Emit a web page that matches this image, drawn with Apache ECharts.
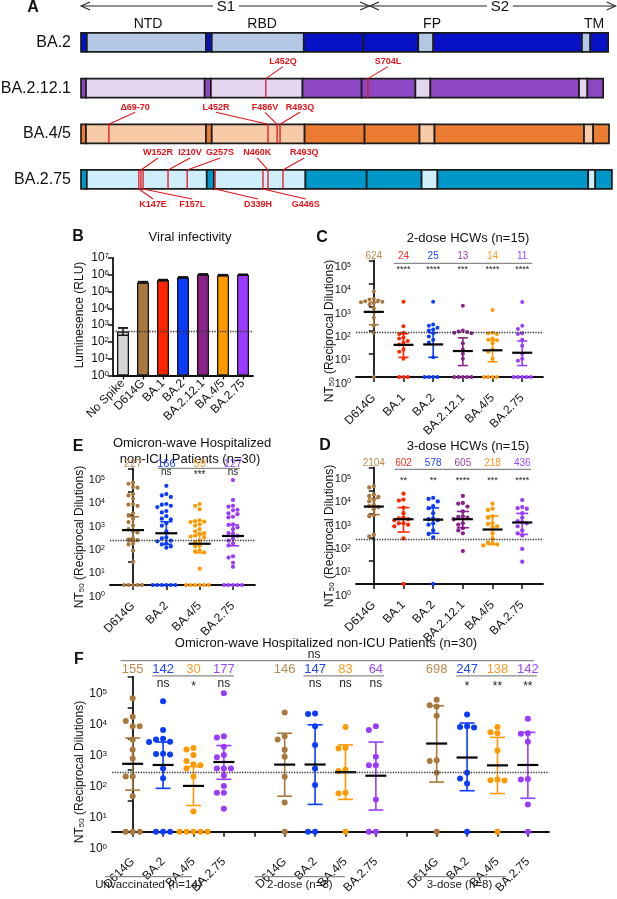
<!DOCTYPE html>
<html>
<head>
<meta charset="utf-8">
<script src="https://cdn.jsdelivr.net/npm/echarts@6.0.0/dist/echarts.min.js"></script>
<style>
html,body{margin:0;padding:0;background:#ffffff;}
#chart{width:617px;height:899px;}
</style>
</head>
<body>
<div id="chart"></div>
<script>
// ================= DATA =================
// ---- Panel A: spike schematics (schematic residue positions) ----
const spikeRows = ['BA.2', 'BA.2.12.1', 'BA.4/5', 'BA.2.75'];
const segBA2    = [0, 14, 300, 314, 535, 678, 810, 846, 1203, 1223, 1266];
const segBA2121 = [0, 12, 297, 312, 532, 674, 803, 839, 1196, 1216, 1254];
const segBA45   = [0, 12, 300, 314, 537, 681, 813, 849, 1208, 1230, 1268];
const segBA275  = [0, 14, 302, 319, 539, 686, 818, 856, 1218, 1235, 1275];
const segLight  = [0, 1, 0, 1, 0, 0, 1, 0, 1, 0];
const subunitNames = ['S1', 'S2'];
const subunitStart = [0, 694];
const subunitEnd = [692, 1284];
const subunitLabelPos = [348, 1006];
const domainNames = ['NTD', 'RBD', 'FP', 'TM'];
const domainPos = [161, 435, 843, 1232];
const mutRow  = [1, 1, 2, 2, 2, 2, 3, 3, 3, 3, 3, 3, 3, 3, 3];
const mutName = ['L452Q', 'S704L', 'Δ69-70', 'L452R', 'F486V', 'R493Q', 'K147E', 'W152R', 'F157L', 'I210V', 'G257S', 'D339H', 'G446S', 'N460K', 'R493Q'];
const mutPos  = [444, 689, 67, 449, 471, 478, 139, 144, 149, 209, 255, 322, 437, 449, 485];
const mutLabelPos = [485, 737, 130, 324, 442, 526, 173, 185, 267, 262, 334, 425, 540, 423, 536];
const mutSide = ['up', 'up', 'up', 'up', 'up', 'up', 'down', 'up', 'down', 'up', 'up', 'down', 'down', 'up', 'up'];

// ---- Panel B: viral infectivity ----
const infectLabels = ['No Spike', 'D614G', 'BA.1', 'BA.2', 'BA.2.12.1', 'BA.4/5', 'BA.2.75'];
const infectValues = [420, 350000, 480000, 700000, 1050000, 950000, 1000000];
const infectErrLow = [250, 320000, 455000, 665000, 1000000, 905000, 950000];
const infectErrHigh = [680, 385000, 510000, 740000, 1110000, 1000000, 1060000];
const infectCutoff = 450;

// ---- Panel C: 2-dose HCWs ----
const cdCats = ['D614G', 'BA.1', 'BA.2', 'BA.2.12.1', 'BA.4/5', 'BA.2.75'];
const c_D614G  = [4800, 2300, 2100, 1900, 1800, 1700, 1600, 1500, 1300, 900, 600, 350, 160, 80, 1];
const c_BA1    = [1700, 150, 80, 70, 50, 45, 35, 30, 25, 15, 12, 6, 1, 1, 1];
const c_BA2    = [1700, 180, 160, 130, 110, 100, 75, 55, 40, 30, 7, 1, 1, 1, 1];
const c_BA2121 = [1150, 100, 90, 85, 80, 75, 28, 15, 10, 6, 1, 1, 1, 1, 1];
const c_BA45   = [760, 80, 75, 70, 45, 40, 38, 28, 15, 12, 6, 1, 1, 1, 1];
const c_BA275  = [1650, 160, 115, 75, 70, 40, 22, 10, 6, 5, 1, 1, 1, 1, 1];
const gmtC  = [624, 24, 25, 13, 14, 11];
const ciLoC = [175, 7, 7, 3.1, 4.5, 3.1];
const ciHiC = [1600, 72, 80, 48, 38, 35];
const starsC = ['', '****', '****', '***', '****', '****'];

// ---- Panel D: 3-dose HCWs ----
const d_D614G  = [16000, 14000, 7000, 6000, 5500, 4000, 3500, 2500, 2200, 2000, 1600, 900, 800, 130, 110];
const d_BA1    = [7500, 4200, 3800, 1900, 1100, 700, 650, 600, 550, 400, 400, 350, 300, 90, 1];
const d_BA2    = [5000, 4500, 3500, 2200, 1800, 1100, 650, 600, 550, 400, 350, 200, 140, 100, 1];
const d_BA2121 = [6000, 3000, 2800, 2100, 1300, 800, 750, 700, 600, 400, 350, 250, 200, 150, 26];
const d_BA45   = [2800, 1700, 1500, 800, 700, 400, 380, 300, 260, 150, 90, 60, 55, 50, 45];
const d_BA275  = [4000, 2000, 1800, 1700, 1100, 700, 500, 450, 400, 300, 200, 150, 120, 32, 9];
const gmtD  = [2104, 602, 578, 605, 218, 436];
const ciLoD = [950, 170, 150, 260, 50, 135];
const ciHiD = [4700, 1900, 1850, 1300, 830, 1070];
const starsD = ['', '**', '**', '****', '***', '****'];

// ---- Panel E: Omicron-wave hospitalized non-ICU (n=30) ----
const eCats = ['D614G', 'BA.2', 'BA.4/5', 'BA.2.75'];
const e_D614G = [25000, 22000, 16000, 15000, 8000, 7000, 5000, 3000, 2800, 2500, 1200, 1000, 700, 500, 350, 250, 200, 180, 100, 90, 85, 60, 55, 30, 10, 1, 1, 1, 1, 1];
const e_BA2   = [18000, 8000, 7000, 6000, 3000, 2800, 2500, 2200, 1500, 1300, 900, 700, 650, 450, 350, 200, 110, 100, 80, 75, 60, 55, 45, 40, 1, 1, 1, 1, 1, 1];
const e_BA45  = [3000, 2500, 1800, 600, 550, 520, 500, 400, 350, 250, 200, 170, 160, 130, 120, 110, 80, 70, 50, 45, 30, 28, 25, 5, 1, 1, 1, 1, 1, 1];
const e_BA275 = [32000, 4500, 2500, 2300, 1700, 1600, 1200, 1100, 850, 800, 400, 380, 300, 250, 170, 160, 130, 100, 80, 60, 50, 17, 15, 9, 6, 1, 1, 1, 1, 1];
const gmtE  = [227, 166, 59, 127];
const ciLoE = [75, 56, 24, 48];
const ciHiE = [850, 520, 145, 380];
const starsE = ['', 'ns', '***', 'ns'];

// ---- Panel F: by vaccination status ----
const fCats = ['D614G', 'BA.2', 'BA.4/5', 'BA.2.75', 'D614G', 'BA.2', 'BA.4/5', 'BA.2.75', 'D614G', 'BA.2', 'BA.4/5', 'BA.2.75'];
const fSlots = [0, 1, 2, 3, 5, 6, 7, 8, 10, 11, 12, 13];
const fGroups = ['Unvaccinated (n=14)', '2-dose (n=8)', '3-dose (n=8)'];
const f_u_D614G  = [20000, 5100, 3700, 2500, 2500, 950, 440, 230, 60, 60, 14, 1, 1, 1];
const f_u_BA2    = [16000, 1900, 1000, 950, 800, 780, 330, 320, 310, 110, 53, 1, 1, 1];
const f_u_BA45   = [500, 450, 300, 190, 150, 140, 110, 60, 4.5, 1, 1, 1, 1, 1];
const f_u_BA275  = [29000, 1200, 1100, 550, 300, 250, 110, 110, 110, 65, 30, 18, 18, 5.5];
const f_2_D614G  = [7000, 1200, 950, 440, 260, 59, 8.7, 1];
const f_2_BA2    = [6500, 6300, 2500, 630, 110, 32, 1, 1];
const f_2_BA45   = [2400, 500, 480, 100, 90, 18, 17, 1];
const f_2_BA275  = [2500, 1900, 260, 140, 140, 11, 1, 1];
const f_3_D614G  = [18000, 12000, 11000, 5500, 200, 190, 80, 1];
const f_3_BA2    = [6000, 2500, 2400, 2300, 80, 52, 36, 1];
const f_3_BA45   = [2400, 1600, 1500, 420, 48, 46, 45, 1];
const f_3_BA275  = [4400, 1500, 1450, 800, 50, 48, 7.5, 1];
const gmtF  = [155, 142, 30, 177, 146, 147, 83, 64, 698, 247, 138, 142];
const ciLoF = [22, 25, 7, 49, 14, 7.6, 11, 5, 40, 21, 17, 12];
const ciHiF = [1050, 780, 126, 600, 1500, 2800, 630, 780, 11500, 3200, 1100, 1600];
const starsF = ['', 'ns', '*', 'ns', '', 'ns', 'ns', 'ns', '', '*', '**', '**'];
const fOverallStat = 'ns';
const ntLOD = 80;

// ================= STYLE =================
const FONT = '"Liberation Sans", Arial, Helvetica, sans-serif';
const INK = '#111111';
const RED = '#e2151b';
const rowDark = ['#0711c6', '#8e47c3', '#ec7c31', '#0098c8'];
const rowLight = ['#b4c7e5', '#e4d5f0', '#f7caa8', '#cfeefb'];
const variantColor = {
  'No Spike': '#d6d6d6', 'D614G': '#a8783f', 'BA.1': '#ff2600', 'BA.2': '#0a3bff',
  'BA.2.12.1': '#8a2389', 'BA.4/5': '#ff9900', 'BA.2.75': '#9a3cff'
};
const numberColor = {
  'D614G': '#b98a52', 'BA.1': '#ff3020', 'BA.2': '#1f45ff', 'BA.2.12.1': '#a040a8',
  'BA.4/5': '#ff9a20', 'BA.2.75': '#9a48ff'
};
const BAR_H = 19;

// ================= HELPERS =================
function T(x, y, text, size, color, o) {
  o = o || {};
  const al = o.align || 'center', va = o.va || 'middle';
  const st = { text: text, fill: color || INK, fontSize: size, fontFamily: FONT,
    fontWeight: o.bold ? 'bold' : 'normal', align: al, verticalAlign: va,
    textAlign: al, textVerticalAlign: va };
  if (o.rich) st.rich = o.rich;
  const el = { type: 'text', x: x, y: y, style: st, z2: 20 };
  if (o.rotation) el.rotation = o.rotation;
  return el;
}
function L(x1, y1, x2, y2, color, w) {
  return { type: 'line', shape: { x1: x1, y1: y1, x2: x2, y2: y2 }, style: { stroke: color, lineWidth: w } };
}
function PL(pts, color, w) {
  return { type: 'polyline', shape: { points: pts }, style: { stroke: color, lineWidth: w, fill: 'none' } };
}
// simple dot-plot spreading: points that would overlap are placed side by side
function swarm(vals, pxDec, step) {
  const order = vals.map((v, i) => i).sort((a, b) => vals[b] - vals[a]);
  const placed = [];
  const off = new Array(vals.length).fill(0);
  order.forEach(i => {
    const y = Math.log10(vals[i]) * pxDec;
    for (let k = 0; k < 60; k++) {
      const m = k === 0 ? 0 : (k % 2 ? -Math.ceil(k / 2) : Math.ceil(k / 2));
      const x = m * step;
      const hit = placed.some(p => Math.abs(p.y - y) < step * 0.9 && Math.abs(p.x - x) < step * 0.95);
      if (!hit) { placed.push({ x: x, y: y }); off[i] = x; break; }
    }
  });
  return off;
}

function logYAxis(gi, maxV, size, shift, margin) {
  return {
    type: 'log', gridIndex: gi, min: 1, max: maxV, logBase: 10,
    splitNumber: Math.round(Math.log10(maxV)),
    axisLine: { show: true, lineStyle: { color: INK, width: 1.8 } },
    axisTick: { show: true, length: 5, lineStyle: { color: INK, width: 1.5 } },
    splitLine: { show: false }, minorTick: { show: false },
    axisLabel: {
      show: true, margin: margin, showMinLabel: true, showMaxLabel: true,
      verticalAlign: shift ? 'top' : 'middle', padding: [shift || 0, 0, 0, 0],
      formatter: v => '{b|10}{s|' + Math.round(Math.log10(v)) + '}',
      rich: {
        b: { fontSize: size, color: INK, fontFamily: FONT },
        s: { fontSize: Math.round(size * 0.68), color: INK, fontFamily: FONT, verticalAlign: 'top' }
      }
    }
  };
}
function slotXAxis(gi, min, max, slots, tickSlots, names, margin) {
  return {
    type: 'value', gridIndex: gi, min: min, max: max,
    axisLine: { show: true, onZero: false, lineStyle: { color: INK, width: 1.8 } },
    axisTick: { show: true, length: 5, customValues: tickSlots, lineStyle: { color: INK, width: 1.5 } },
    axisLabel: { show: true, customValues: slots, rotate: 45, margin: margin, fontSize: 12,
      color: INK, fontFamily: FONT, formatter: v => names[slots.indexOf(Math.round(v))] || '' },
    splitLine: { show: false }
  };
}

function dotSeries(gi, cfg) {
  const pts = [];
  cfg.values.forEach((vals, k) => {
    const offs = swarm(vals, cfg.pxDec, cfg.step);
    vals.forEach((v, j) => pts.push([cfg.slots[k] + offs[j] / cfg.pxSlot, v, k]));
  });
  return {
    type: 'scatter', xAxisIndex: gi, yAxisIndex: gi, data: pts, symbol: 'circle',
    symbolSize: cfg.dot, clip: false, silent: true, z: 3,
    itemStyle: { color: p => variantColor[cfg.cats[p.data[2]]], opacity: 1 },
    markLine: { silent: true, symbol: 'none', animation: false, data: [{ yAxis: ntLOD }],
      label: { show: false }, lineStyle: { type: 'dotted', color: '#333', width: 1.3 } }
  };
}
function errSeries(gi, cfg) {
  return {
    type: 'custom', xAxisIndex: gi, yAxisIndex: gi, clip: false, silent: true, z: 4,
    data: cfg.slots.map((s, k) => [s, cfg.gmt[k], cfg.lo[k], cfg.hi[k]]),
    renderItem: (params, api) => {
      const k = params.dataIndex;
      const col = variantColor[cfg.cats[k]];
      const x = api.value(0);
      const pm = api.coord([x, api.value(1)]);
      const pl = api.coord([x, api.value(2)]);
      const ph = api.coord([x, api.value(3)]);
      const c = cfg.capW / 2, m = cfg.meanW / 2;
      return { type: 'group', children: [
        L(pm[0], pl[1], pm[0], ph[1], col, 1.6),
        L(pm[0] - c, pl[1], pm[0] + c, pl[1], col, 1.6),
        L(pm[0] - c, ph[1], pm[0] + c, ph[1], col, 1.6),
        L(pm[0] - m, pm[1], pm[0] + m, pm[1], '#000', 2.2)
      ] };
    }
  };
}
function annotSeries(gi, cfg) {
  return {
    type: 'custom', xAxisIndex: gi, yAxisIndex: gi, clip: false, silent: true, z: 6,
    data: [[cfg.slots[0], 100000]],
    renderItem: (params, api) => {
      const top = api.coord([0, 100000])[1];
      const bottom = api.coord([0, 1])[1];
      const X = s => api.coord([s, 100000])[0];
      const ch = [];
      cfg.slots.forEach((s, k) => {
        ch.push(T(X(s), top + cfg.numOff, String(cfg.gmt[k]), cfg.numSize, numberColor[cfg.cats[k]]));
        const st = cfg.stars[k];
        if (st) ch.push(T(X(s), top + cfg.starOff + (st.indexOf('*') >= 0 ? 3 : 0), st, cfg.starSize, '#222'));
      });
      cfg.lines.forEach(ab => ch.push(L(X(ab[0]), top + cfg.lineOff, X(ab[1]), top + cfg.lineOff, '#8a8a8a', 1.3)));
      if (cfg.overall) {
        const o = cfg.overall;
        ch.push(L(X(o.from), top + o.lineOff, X(o.to), top + o.lineOff, '#8a8a8a', 1.3));
        ch.push(T(X(o.at), top + o.textOff, o.text, o.size, '#222'));
      }
      if (cfg.groups) {
        const g = cfg.groups;
        g.names.forEach((n, i) => {
          const a = X(g.spans[i][0]), b = X(g.spans[i][1]);
          ch.push(L(a, bottom + g.lineOff, b, bottom + g.lineOff, '#8a8a8a', 1.3));
          ch.push(T((a + b) / 2, bottom + g.textOff, n, g.size, '#222'));
        });
      }
      return { type: 'group', children: ch };
    }
  };
}

// ================= PANEL A SERIES =================
const segBounds = [segBA2, segBA2121, segBA45, segBA275];
const segData = [];
segBounds.forEach((b, r) => {
  for (let k = 0; k < b.length - 1; k++) segData.push([b[k], b[k + 1], r, segLight[k]]);
});
const aSegSeries = {
  type: 'custom', xAxisIndex: 0, yAxisIndex: 0, clip: false, silent: true, z: 2,
  data: segData,
  renderItem: (params, api) => {
    const r = api.value(2);
    const p0 = api.coord([api.value(0), r]);
    const p1 = api.coord([api.value(1), r]);
    return { type: 'rect', shape: { x: p0[0], y: p0[1] - BAR_H / 2, width: p1[0] - p0[0], height: BAR_H },
      style: { fill: api.value(3) ? rowLight[r] : rowDark[r], stroke: '#1b1b1b', lineWidth: 1.7 } };
  }
};
const aMutSeries = {
  type: 'custom', xAxisIndex: 0, yAxisIndex: 0, clip: false, silent: true, z: 3,
  data: mutPos.map((p, i) => [p, mutRow[i], mutLabelPos[i]]),
  renderItem: (params, api) => {
    const i = params.dataIndex;
    const r = api.value(1);
    const c = api.coord([api.value(0), r]);
    const lc = api.coord([api.value(2), r]);
    const top = c[1] - BAR_H / 2, bot = c[1] + BAR_H / 2;
    const up = mutSide[i] === 'up';
    const yEdge = up ? top : bot;
    const yLead = up ? top - 12 : bot + 10;
    const yText = up ? top - 17 : bot + 16;
    return { type: 'group', children: [
      L(c[0], top, c[0], bot, RED, 1.3),
      L(c[0], yEdge, lc[0], yLead, RED, 1.1),
      T(lc[0], yText, mutName[i], 9, RED, { bold: true })
    ] };
  }
};
const aLabelSeries = {
  type: 'custom', xAxisIndex: 0, yAxisIndex: 0, clip: false, silent: true, z: 4,
  data: [[0, 0]],
  renderItem: (params, api) => {
    const ch = [];
    const barTop0 = api.coord([0, 0])[1] - BAR_H / 2;
    const yArrow = barTop0 - 27, yDom = barTop0 - 9;
    subunitNames.forEach((n, i) => {
      const xs = api.coord([subunitStart[i], 0])[0];
      const xe = api.coord([subunitEnd[i], 0])[0];
      const xl = api.coord([subunitLabelPos[i], 0])[0];
      ch.push(L(xs, yArrow, xl - 13, yArrow, '#222', 1.1));
      ch.push(L(xl + 13, yArrow, xe, yArrow, '#222', 1.1));
      ch.push(PL([[xs + 9, yArrow - 4], [xs, yArrow], [xs + 9, yArrow + 4]], '#222', 1.1));
      ch.push(PL([[xe - 9, yArrow - 4], [xe, yArrow], [xe - 9, yArrow + 4]], '#222', 1.1));
      ch.push(T(xl, yArrow + 1, n, 15, INK));
    });
    domainNames.forEach((n, i) => ch.push(T(api.coord([domainPos[i], 0])[0], yDom, n, 14, INK)));
    spikeRows.forEach((n, r) => {
      const p = api.coord([0, r]);
      ch.push(T(p[0] - 10, p[1], n, 16, INK, { align: 'right' }));
    });
    return { type: 'group', children: ch };
  }
};

// ================= PANEL B SERIES =================
const bBarSeries = {
  type: 'bar', xAxisIndex: 1, yAxisIndex: 1, barWidth: 12, silent: true, z: 2,
  data: infectValues.map((v, i) => ({ value: v, itemStyle: { color: variantColor[infectLabels[i]] } })),
  itemStyle: { borderColor: '#151515', borderWidth: 1.3 },
  markLine: { silent: true, symbol: 'none', animation: false, data: [{ yAxis: infectCutoff }],
    label: { show: false }, lineStyle: { type: 'dotted', color: '#333', width: 1.3 } }
};
const bErrSeries = {
  type: 'custom', xAxisIndex: 1, yAxisIndex: 1, clip: false, silent: true, z: 4,
  data: infectValues.map((v, i) => [i, infectErrLow[i], infectErrHigh[i]]),
  renderItem: (params, api) => {
    const pl = api.coord([api.value(0), api.value(1)]);
    const ph = api.coord([api.value(0), api.value(2)]);
    return { type: 'group', children: [
      L(pl[0], pl[1], pl[0], ph[1], '#111', 1.4),
      L(pl[0] - 5, pl[1], pl[0] + 5, pl[1], '#111', 1.4),
      L(pl[0] - 5, ph[1], pl[0] + 5, ph[1], '#111', 1.8)
    ] };
  }
};

// ================= PANELS C–F =================
const cSlots = [0, 1, 2, 3, 4, 5];
const cfgC = { cats: cdCats, slots: cSlots, values: [c_D614G, c_BA1, c_BA2, c_BA2121, c_BA45, c_BA275],
  gmt: gmtC, lo: ciLoC, hi: ciHiC, stars: starsC, pxDec: 23.3, pxSlot: 29.7, dot: 4, step: 4.3,
  capW: 10, meanW: 20, lines: [[0.67, 5.34]], numOff: -4.5, lineOff: 2.8, starOff: 6.2, numSize: 10, starSize: 9 };
const cfgD = { cats: cdCats, slots: cSlots, values: [d_D614G, d_BA1, d_BA2, d_BA2121, d_BA45, d_BA275],
  gmt: gmtD, lo: ciLoD, hi: ciHiD, stars: starsD, pxDec: 23.3, pxSlot: 29.7, dot: 4.3, step: 4.6,
  capW: 12, meanW: 20, lines: [[0.7, 5.3]], numOff: -4.2, lineOff: 1.8, starOff: 9.8, numSize: 10, starSize: 9 };
const cfgE = { cats: eCats, slots: [0, 1, 2, 3], values: [e_D614G, e_BA2, e_BA45, e_BA275],
  gmt: gmtE, lo: ciLoE, hi: ciHiE, stars: starsE, pxDec: 23.3, pxSlot: 33.3, dot: 4.2, step: 4.5,
  capW: 12, meanW: 22, lines: [[0.75, 3.2]], numOff: -4.2, lineOff: -0.2, starOff: 3.4, numSize: 11, starSize: 10 };
const cfgF = { cats: fCats, slots: fSlots,
  values: [f_u_D614G, f_u_BA2, f_u_BA45, f_u_BA275, f_2_D614G, f_2_BA2, f_2_BA45, f_2_BA275, f_3_D614G, f_3_BA2, f_3_BA45, f_3_BA275],
  gmt: gmtF, lo: ciLoF, hi: ciHiF, stars: starsF, pxDec: 31, pxSlot: 30.4, dot: 6, step: 7,
  capW: 15, meanW: 21, lines: [[0.65, 3.33], [5.62, 8.27], [10.65, 13.3]],
  numOff: -7.5, lineOff: -0.8, starOff: 6.5, numSize: 13, starSize: 12,
  overall: { from: -0.4, to: 13.2, at: 5.97, text: fOverallStat, lineOff: -16, textOff: -22.5, size: 12 },
  groups: { names: fGroups, spans: [[-0.91, 1.95], [4.02, 6.98], [9.22, 12.28]], lineOff: 45, textOff: 53, size: 11.5 } };

const ntTitle = '{n|NT}{s|50}{n| (Reciprocal Dilutions)}';
const ntRich = { n: { fontSize: 12, fontFamily: FONT, color: INK }, s: { fontSize: 8, fontFamily: FONT, color: INK, verticalAlign: 'bottom' } };

const option = {
  backgroundColor: '#ffffff',
  animation: false,
  textStyle: { fontFamily: FONT },
  grid: [
    { left: 81, top: 0, width: 533, height: 200, containLabel: false, outerBoundsMode: 'none' },
    { left: 113, top: 258, width: 140, height: 117.5, containLabel: false, outerBoundsMode: 'none' },
    { left: 356, top: 260.5, width: 187, height: 116.5, containLabel: false, outerBoundsMode: 'none' },
    { left: 356, top: 467.5, width: 187, height: 116.5, containLabel: false, outerBoundsMode: 'none' },
    { left: 110, top: 468.5, width: 145, height: 116.5, containLabel: false, outerBoundsMode: 'none' },
    { left: 112, top: 676.7, width: 437, height: 155, containLabel: false, outerBoundsMode: 'none' }
  ],
  xAxis: [
    { type: 'value', gridIndex: 0, min: 0, max: 1280, show: false },
    { type: 'category', gridIndex: 1, data: infectLabels,
      axisLine: { show: true, lineStyle: { color: INK, width: 1.8 } },
      axisTick: { show: true, alignWithLabel: true, length: 4, lineStyle: { color: INK, width: 1.3 } },
      axisLabel: { rotate: 45, interval: 0, margin: 6, fontSize: 12, color: INK, fontFamily: FONT } },
    slotXAxis(2, -0.6, 5.7, cSlots, cSlots, cdCats, 19),
    slotXAxis(3, -0.6, 5.7, cSlots, cSlots, cdCats, 19),
    slotXAxis(4, -0.69, 3.66, [0, 1, 2, 3], [0, 1, 2, 3], eCats, 19),
    slotXAxis(5, -0.68, 13.695, fSlots, [0, 1, 2, 3, 4, 5, 6, 7, 8, 9, 10, 11, 12, 13], fCats, 28)
  ],
  yAxis: [
    { type: 'value', gridIndex: 0, min: -0.93, max: 3.45, inverse: true, show: false },
    logYAxis(1, 1e7, 12, 0, 4),
    logYAxis(2, 1e5, 11, 1, 5),
    logYAxis(3, 1e5, 11, 6, 5),
    logYAxis(4, 1e5, 11, 6, 5),
    logYAxis(5, 1e5, 12, 11, 5)
  ],
  series: [
    aSegSeries, aMutSeries, aLabelSeries,
    bBarSeries, bErrSeries,
    dotSeries(2, cfgC), errSeries(2, cfgC), annotSeries(2, cfgC),
    dotSeries(3, cfgD), errSeries(3, cfgD), annotSeries(3, cfgD),
    dotSeries(4, cfgE), errSeries(4, cfgE), annotSeries(4, cfgE),
    dotSeries(5, cfgF), errSeries(5, cfgF), annotSeries(5, cfgF)
  ],
  graphic: [
    T(33, 8, 'A', 16, INK, { bold: true }),
    T(78, 237, 'B', 16, INK, { bold: true }),
    T(322, 238, 'C', 16, INK, { bold: true }),
    T(325, 446, 'D', 16, INK, { bold: true }),
    T(78, 447, 'E', 16, INK, { bold: true }),
    T(79, 660, 'F', 16, INK, { bold: true }),
    T(190, 237, 'Viral infectivity', 13, INK),
    T(468, 238, '2-dose HCWs (n=15)', 13, INK),
    T(468, 446, '3-dose HCWs (n=15)', 13, INK),
    T(192, 443, 'Omicron-wave Hospitalized', 13, INK),
    T(190, 459, 'non-ICU Patients (n=30)', 13, INK),
    T(326, 643, 'Omicron-wave Hospitalized non-ICU Patients (n=30)', 13, INK),
    T(80, 315, 'Luminesence (RLU)', 12, INK, { rotation: Math.PI / 2 }),
    T(330, 331, ntTitle, 12, INK, { rotation: Math.PI / 2, rich: ntRich }),
    T(330, 536, ntTitle, 12, INK, { rotation: Math.PI / 2, rich: ntRich }),
    T(80, 537, ntTitle, 12, INK, { rotation: Math.PI / 2, rich: ntRich }),
    T(80, 772, ntTitle, 12, INK, { rotation: Math.PI / 2, rich: ntRich })
  ]
};

const chart = echarts.init(document.getElementById('chart'), null, { renderer: 'canvas', width: 617, height: 899 });
chart.setOption(option);
</script>
</body>
</html>
